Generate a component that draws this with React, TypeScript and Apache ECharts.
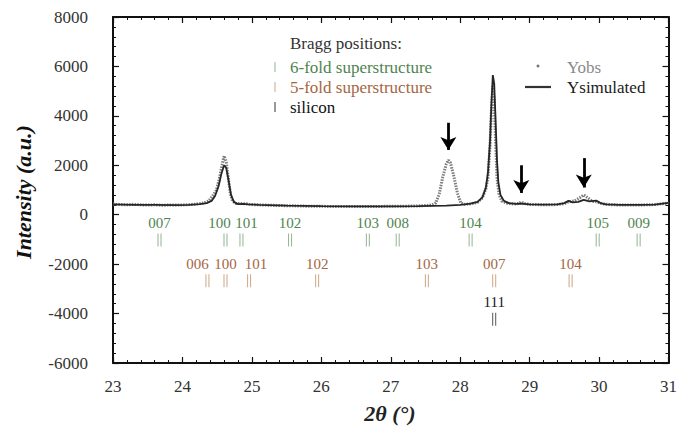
import React, { useEffect, useRef } from "react";
import * as echarts from "echarts";

// ---- data ----
const obsData: number[][] = [
  [23.0, 430], [23.1, 410], [23.2, 400], [23.3, 420], [23.4, 400], [23.5, 390], [23.6, 400],
  [23.7, 385], [23.8, 390], [23.9, 395], [24.0, 395], [24.1, 410], [24.2, 430], [24.3, 470],
  [24.38, 560], [24.44, 780], [24.49, 1000], [24.53, 1450], [24.57, 2000], [24.6, 2380],
  [24.63, 2150], [24.66, 1500], [24.69, 850], [24.72, 560], [24.77, 450], [24.85, 450],
  [24.92, 440], [25.0, 410], [25.2, 390], [25.4, 370], [25.6, 360], [25.8, 345], [26.0, 340],
  [26.2, 330], [26.4, 330], [26.6, 330], [26.8, 335], [27.0, 340], [27.2, 345], [27.4, 355],
  [27.55, 380], [27.6, 400], [27.65, 480], [27.7, 860], [27.75, 1540], [27.8, 2050],
  [27.83, 2210], [27.86, 2100], [27.91, 1540], [27.96, 870], [28.01, 470], [28.06, 420],
  [28.15, 440], [28.25, 500], [28.32, 680], [28.37, 1050], [28.4, 1500], [28.43, 2800],
  [28.45, 4300], [28.47, 5200], [28.49, 4600], [28.51, 3000], [28.53, 1500], [28.56, 800],
  [28.6, 550], [28.68, 460], [28.78, 430], [28.85, 460], [28.88, 520], [28.92, 450],
  [29.0, 420], [29.2, 400], [29.4, 410], [29.5, 450], [29.56, 520], [29.65, 560], [29.72, 680],
  [29.78, 800], [29.84, 680], [29.9, 540], [29.96, 520], [30.05, 440], [30.2, 400],
  [30.4, 390], [30.6, 395], [30.8, 410], [31.0, 470],
];

const simData: number[][] = [
  [23.0, 420], [23.3, 400], [23.6, 395], [23.9, 390], [24.1, 400], [24.25, 430], [24.35, 470],
  [24.42, 560], [24.47, 760], [24.52, 1150], [24.56, 1650], [24.6, 2000], [24.63, 1900],
  [24.66, 1450], [24.7, 800], [24.74, 520], [24.8, 430], [24.88, 440], [24.95, 420],
  [25.1, 400], [25.5, 370], [26.0, 350], [26.5, 340], [27.0, 340], [27.4, 350], [27.8, 370],
  [28.0, 400], [28.15, 450], [28.25, 520], [28.32, 700], [28.37, 1100], [28.4, 1700],
  [28.43, 3000], [28.45, 4500], [28.47, 5650], [28.49, 5300], [28.51, 3800], [28.53, 2200],
  [28.55, 1300], [28.58, 800], [28.63, 560], [28.7, 470], [28.8, 440], [28.88, 450],
  [29.0, 420], [29.2, 410], [29.4, 420], [29.5, 470], [29.56, 560], [29.62, 500],
  [29.7, 520], [29.78, 600], [29.86, 540], [29.96, 570], [30.02, 470], [30.1, 420],
  [30.3, 400], [30.6, 400], [30.8, 410], [31.0, 480],
];

// Bragg positions (2θ) and their hkl labels
const sixFoldPos = [23.67, 24.62, 24.85, 25.55, 26.67, 27.1, 28.15, 29.98, 30.57];
const sixFoldHkl = ["007", "100", "101", "102", "103", "008", "104", "105", "009"];
const fiveFoldPos = [24.36, 24.62, 24.96, 25.94, 27.52, 28.49, 29.59];
const fiveFoldHkl = ["006", "100", "101", "102", "103", "007", "104"];
const siliconPos = [28.49];
const siliconHkl = ["111"];

// row level (intensity) at which each set of Bragg ticks is drawn
const sixFoldRow = -1020;
const fiveFoldRow = -2670;
const siliconRow = -4230;

// arrows: [2θ, start intensity, tip intensity]
const arrows: number[][] = [
  [27.83, 3720, 2620],
  [28.88, 2000, 880],
  [29.78, 2290, 1100],
];

const xTicks = { min: 23, max: 31, interval: 1 };
const yTicks = { min: -6000, max: 8000, interval: 2000 };

// label nudges (pixels) for crowded hkl labels — styling only
const sixFoldNudge: Record<string, number> = { "100": -6, "101": 5 };
const fiveFoldNudge: Record<string, number> = { "006": -10, "101": 7 };

const FONT = "Liberation Serif";
const GREEN = "#4f8450";
const GREEN_TICK = "#93b393";
const BROWN = "#a4663f";
const BROWN_TICK = "#cfa584";

const BAR_PATH = "path://M0,0H1V13H0ZM3,0H4V13H3Z";

function braggSeries(
  pos: number[],
  hkl: string[],
  row: number,
  labelColor: string,
  tickColor: string,
  nudge: Record<string, number>
) {
  return {
    type: "scatter",
    silent: true,
    symbol: BAR_PATH,
    symbolSize: [4, 13],
    itemStyle: { color: tickColor, opacity: 1 },
    label: {
      show: true,
      position: "top",
      distance: 3,
      formatter: (p: any) => p.name,
      color: labelColor,
      fontSize: 15,
      fontFamily: FONT,
    },
    data: pos.map((x, i) => ({
      value: [x, row],
      name: hkl[i],
      label: nudge[hkl[i]] ? { offset: [nudge[hkl[i]], 0] } : undefined,
    })),
    z: 3,
  };
}

export default function App() {
  const ref = useRef<HTMLDivElement>(null);
  useEffect(() => {
    if (!ref.current) return;
    const chart = echarts.init(ref.current, undefined, { renderer: "svg" });

    const axisCommon = {
      type: "value",
      axisLine: { show: true, onZero: false, lineStyle: { color: "#111", width: 2 } },
      axisTick: { show: true, inside: true, length: 6, lineStyle: { color: "#111", width: 1.2 } },
      minorTick: { show: true, splitNumber: 5, length: 3, lineStyle: { color: "#111", width: 1 } },
      splitLine: { show: false },
    };

    const option: any = {
      animation: false,
      backgroundColor: "#ffffff",
      grid: { left: 113, right: 8, top: 17, bottom: 67, containLabel: false },
      xAxis: [
        {
          ...axisCommon,
          ...xTicks,
          position: "bottom",
          axisLabel: { color: "#333", fontSize: 17, fontFamily: FONT, margin: 15 },
        },
        {
          ...axisCommon,
          ...xTicks,
          position: "top",
          axisLabel: { show: false },
        },
      ],
      yAxis: [
        {
          ...axisCommon,
          ...yTicks,
          position: "left",
          axisLabel: {
            color: "#333",
            fontSize: 17,
            fontFamily: FONT,
            margin: 25,
            formatter: (v: number) => String(v),
          },
        },
        {
          ...axisCommon,
          ...yTicks,
          position: "right",
          axisLabel: { show: false },
        },
      ],
      series: [
        {
          name: "Yobs",
          type: "line",
          data: obsData,
          showSymbol: false,
          silent: true,
          lineStyle: { color: "#7d7d7d", width: 3, type: [1.5, 1.2] },
          z: 2,
        },
        {
          name: "Ysimulated",
          type: "line",
          data: simData,
          showSymbol: false,
          silent: true,
          lineStyle: { color: "#262626", width: 1.8 },
          z: 4,
          markLine: {
            silent: true,
            symbol: ["none", "arrow"],
            symbolSize: [12, 13],
            label: { show: false },
            lineStyle: { color: "#000", width: 2.8, type: "solid" },
            data: arrows.map((a) => [{ coord: [a[0], a[1]] }, { coord: [a[0], a[2]] }]),
          },
        },
        braggSeries(sixFoldPos, sixFoldHkl, sixFoldRow, GREEN, GREEN_TICK, sixFoldNudge),
        braggSeries(fiveFoldPos, fiveFoldHkl, fiveFoldRow, BROWN, BROWN_TICK, fiveFoldNudge),
        braggSeries(siliconPos, siliconHkl, siliconRow, "#1a1a1a", "#555555", {}),
      ],
      graphic: [
        {
          type: "text",
          x: 23,
          y: 192,
          rotation: Math.PI / 2,
          style: {
            text: "Intensity (a.u.)",
            font: `italic bold 22px ${FONT}`,
            fill: "#111",
            textAlign: "center",
            textVerticalAlign: "middle",
          },
        },
        {
          type: "text",
          x: 390,
          y: 413,
          style: {
            text: "2θ (°)",
            font: `italic bold 22px ${FONT}`,
            fill: "#222",
            textAlign: "center",
            textVerticalAlign: "middle",
          },
        },
        {
          type: "text",
          x: 290,
          y: 43,
          style: { text: "Bragg positions:", font: `17px ${FONT}`, fill: "#333", textVerticalAlign: "middle" },
        },
        {
          type: "text",
          x: 290,
          y: 67,
          style: { text: "6-fold superstructure", font: `17px ${FONT}`, fill: GREEN, textVerticalAlign: "middle" },
        },
        {
          type: "text",
          x: 290,
          y: 87,
          style: { text: "5-fold superstructure", font: `17px ${FONT}`, fill: BROWN, textVerticalAlign: "middle" },
        },
        {
          type: "text",
          x: 290,
          y: 107,
          style: { text: "silicon", font: `17px ${FONT}`, fill: "#111", textVerticalAlign: "middle" },
        },
        { type: "line", shape: { x1: 275, y1: 62, x2: 275, y2: 72 }, style: { stroke: GREEN_TICK, lineWidth: 1 } },
        { type: "line", shape: { x1: 275, y1: 82, x2: 275, y2: 92 }, style: { stroke: BROWN_TICK, lineWidth: 1 } },
        { type: "line", shape: { x1: 275, y1: 102, x2: 275, y2: 112 }, style: { stroke: "#555", lineWidth: 1.2 } },
        { type: "circle", shape: { cx: 538, cy: 66, r: 1.5 }, style: { fill: "#777" } },
        {
          type: "text",
          x: 567,
          y: 67,
          style: { text: "Yobs", font: `17px ${FONT}`, fill: "#8a8a8a", textVerticalAlign: "middle" },
        },
        { type: "line", shape: { x1: 525, y1: 87, x2: 551, y2: 87 }, style: { stroke: "#333", lineWidth: 2.2 } },
        {
          type: "text",
          x: 567,
          y: 87,
          style: { text: "Ysimulated", font: `17px ${FONT}`, fill: "#1a1a1a", textVerticalAlign: "middle" },
        },
      ],
    };

    chart.setOption(option);
    return () => chart.dispose();
  }, []);

  return (
    <div
      ref={ref}
      style={{ position: "fixed", left: 0, top: 0, width: 680, height: 430, background: "#fff" }}
    />
  );
}
